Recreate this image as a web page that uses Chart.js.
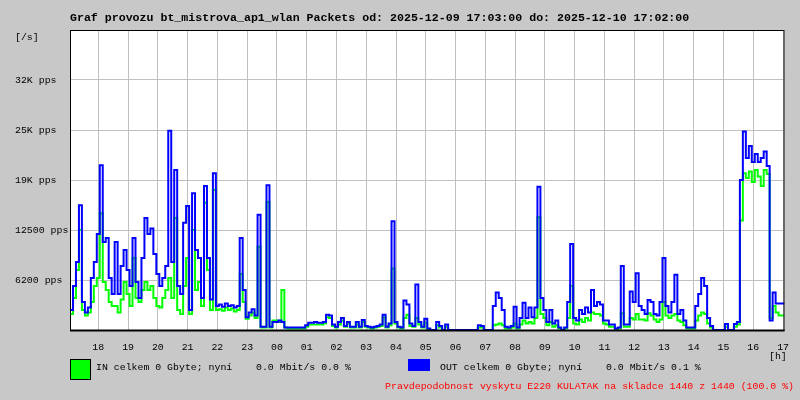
<!DOCTYPE html>
<html><head><meta charset="utf-8">
<script src="https://cdn.jsdelivr.net/npm/chart.js@4/dist/chart.umd.min.js"></script>
<style>html,body{margin:0;padding:0;background:#c8c8c8;overflow:hidden}#wrap{width:800px;height:400px}</style>
</head><body><div id="wrap"><canvas id="c" width="800" height="400"></canvas></div>
<script>
const titleText = 'Graf provozu bt_mistrova_ap1_wlan Packets od: 2025-12-09 17:03:00 do: 2025-12-10 17:02:00';
const hourLabels = ['18','19','20','21','22','23','00','01','02','03','04','05','06','07','08','09','10','11','12','13','14','15','16','17'];
const yTickValues = [6250, 12500, 18750, 25000, 31250];
const yTickLabels = ['6200 pps', '12500 pps', '19K pps', '25K pps', '32K pps'];
const yMax = 37500;
const legendIn = 'IN celkem 0 Gbyte; nyní    0.0 Mbit/s 0.0 %';
const legendOut = 'OUT celkem 0 Gbyte; nyní    0.0 Mbit/s 0.1 %';
const footText = 'Pravdepodobnost vyskytu E220 KULATAK na skladce 1440 z 1440 (100.0 %)';

const outValues = [
5000,2500,5500,8500,15600,3500,2200,2800,6500,8500,
12000,20600,11000,11500,6500,4500,11000,4500,8000,10000,
7500,5500,11500,6000,4000,9000,14000,12000,12700,9500,
7000,5500,6500,8000,24900,8500,20000,5500,4500,13400,
15500,2500,17100,10000,9000,4000,18000,9000,3800,19600,
3000,3200,2900,3300,3000,3100,2800,3000,11500,5000,
1600,2200,2600,1800,14400,400,400,18100,400,1000,
1000,1200,1000,300,300,300,300,300,300,300,
600,900,900,1000,900,900,1000,1900,1800,700,
400,1000,1500,500,1000,400,400,1000,400,1250,
500,400,300,400,500,700,1900,400,800,13600,
1000,400,300,3700,3200,800,500,5700,1000,400,
1400,200,0,0,1000,500,0,700,0,0,
0,0,0,0,0,0,0,0,600,500,
0,0,0,3000,4700,4000,2500,400,300,500,
2900,300,1500,3400,1500,2800,1600,2800,17900,4000,
2500,1000,2500,800,1200,300,0,300,3500,10750,
1500,1200,2500,2000,2800,2200,5000,3000,3500,3200,
1200,1200,700,700,200,300,8000,700,700,4800,
3500,7100,3000,2500,2000,3750,3500,2000,1800,3500,
9000,3000,2200,3500,6900,2000,2500,1200,300,300,
300,3000,4500,6500,5500,1500,500,0,0,0,
0,750,0,0,750,1000,18750,24800,21500,23000,
21000,22000,21000,21500,22300,20500,1200,4700,3300,3300
];
const inValues = [
4500,2000,4000,7500,12500,2500,1800,2200,3500,5500,
6500,14600,6000,5000,3500,3000,3000,2200,3800,6000,
4500,3000,9000,4000,3500,5000,6000,5000,5500,4000,
3000,2800,4000,5000,6500,4000,14000,2500,2000,5500,
9000,2000,12500,5000,6000,3000,15900,7500,2500,17500,
2500,2600,2400,2800,2500,2700,2300,2500,7000,3500,
1400,1800,2200,1500,10400,300,300,16000,300,1200,
1200,1000,5000,300,200,200,200,200,200,200,
400,700,700,700,700,700,800,1600,1500,500,
300,700,1200,400,800,300,300,700,300,1000,
400,300,200,300,400,500,1600,300,600,7700,
800,300,200,1500,1900,500,400,1500,700,300,
900,100,0,0,600,300,0,400,0,0,
0,0,0,0,0,0,0,0,300,300,
0,0,0,600,700,800,600,200,200,300,
800,200,700,1200,800,1000,800,1500,14100,2000,
1500,600,1000,400,600,200,0,200,1500,5500,
800,700,1300,1000,1500,1200,2200,2000,2000,1800,
800,700,400,400,100,200,2100,400,400,1500,
1300,2000,1300,1300,1200,2100,1800,1300,1000,1300,
3500,1800,1500,1800,2000,1200,1000,600,200,200,
200,1200,1800,2200,2000,800,300,0,0,0,
0,400,0,0,400,700,13700,19600,19000,19800,
18500,20000,19200,18000,20000,19500,1500,3000,2200,1800
];

const totalMinutes = 1440;
const firstHourMinute = 57;
function toPoints(arr){
  const step = totalMinutes / arr.length;
  const pts = arr.map((v,i)=>({x:i*step, y:v}));
  pts.push({x: totalMinutes, y: arr[arr.length-1]});
  return pts;
}

const MONO = "'Liberation Mono', 'DejaVu Sans Mono', monospace";
Chart.defaults.font.family = MONO;
Chart.defaults.font.size = 9.9;
Chart.defaults.color = '#000';

const decor = {
  id: 'decor',
  beforeDraw(chart){
    const ctx = chart.ctx, a = chart.chartArea;
    ctx.save();
    ctx.fillStyle = '#c8c8c8';
    ctx.fillRect(0,0,chart.width,chart.height);
    ctx.fillStyle = '#ffffff';
    ctx.fillRect(a.left, a.top, a.right-a.left, a.bottom-a.top);
    ctx.restore();
  },
  afterDraw(chart){
    const ctx = chart.ctx, a = chart.chartArea;
    ctx.save();
    ctx.strokeStyle = '#000';
    ctx.lineWidth = 1;
    ctx.strokeRect(a.left+0.5, a.top+0.5, a.right-a.left-1, a.bottom-a.top);
    ctx.lineWidth = 2;
    ctx.beginPath(); ctx.moveTo(a.left, a.bottom+0.5); ctx.lineTo(a.right, a.bottom+0.5); ctx.stroke();
    ctx.textBaseline = 'middle';
    ctx.fillStyle = '#000';
    ctx.font = 'bold 11.6px ' + MONO;
    ctx.textAlign = 'left';
    ctx.fillText(titleText, a.left, 18);
    ctx.font = '9.9px ' + MONO;
    ctx.fillText('[/s]', 15, 37);
    ctx.fillText('[h]', 769, 356);
    ctx.fillStyle = '#00ff00';
    ctx.fillRect(70, 359, 21, 21);
    ctx.lineWidth = 1;
    ctx.strokeStyle = '#000';
    ctx.strokeRect(70.5, 359.5, 20, 20);
    ctx.fillStyle = '#0000ff';
    ctx.fillRect(408, 359, 22, 12);
    ctx.fillStyle = '#000';
    ctx.fillText(legendIn, 96, 367);
    ctx.fillText(legendOut, 440, 367);
    ctx.fillStyle = '#ff0000';
    ctx.textAlign = 'right';
    ctx.fillText(footText, 794, 386);
    ctx.restore();
  }
};

new Chart(document.getElementById('c'), {
  type: 'line',
  data: {
    datasets: [
      { label: 'OUT', data: toPoints(outValues), borderColor: '#0000ff', borderWidth: 2, pointRadius: 0, stepped: 'after', fill: false, order: 0 },
      { label: 'IN', data: toPoints(inValues), borderColor: '#00ff00', borderWidth: 2, pointRadius: 0, stepped: 'after', fill: false, order: 1 }
    ]
  },
  options: {
    responsive: false,
    animation: false,
    devicePixelRatio: 1,
    layout: { padding: { left: 15, right: 10, top: 30, bottom: 0 } },
    plugins: { legend: { display: false }, tooltip: { enabled: false }, title: { display: false } },
    scales: {
      x: {
        type: 'linear', min: 0, max: totalMinutes,
        afterBuildTicks: s => { s.ticks = hourLabels.map((l,k)=>({value: firstHourMinute + 60*k})); },
        afterFit: s => { s.height = 70; },
        ticks: { autoSkip: false, maxRotation: 0, padding: 11, callback: (v, idx) => hourLabels[idx] },
        grid: { color: '#c0c0c0', lineWidth: 1, drawTicks: false },
        border: { display: false }
      },
      y: {
        min: 0, max: yMax,
        afterBuildTicks: s => { s.ticks = [0].concat(yTickValues, [yMax]).map(v=>({value:v})); },
        afterFit: s => { s.width = 55; },
        ticks: { crossAlign: 'far', padding: 4, callback: v => { const k = yTickValues.indexOf(v); return k >= 0 ? yTickLabels[k] : ''; } },
        grid: { color: '#c0c0c0', lineWidth: 1, drawTicks: false },
        border: { display: false }
      }
    }
  },
  plugins: [decor]
});
</script></body></html>
